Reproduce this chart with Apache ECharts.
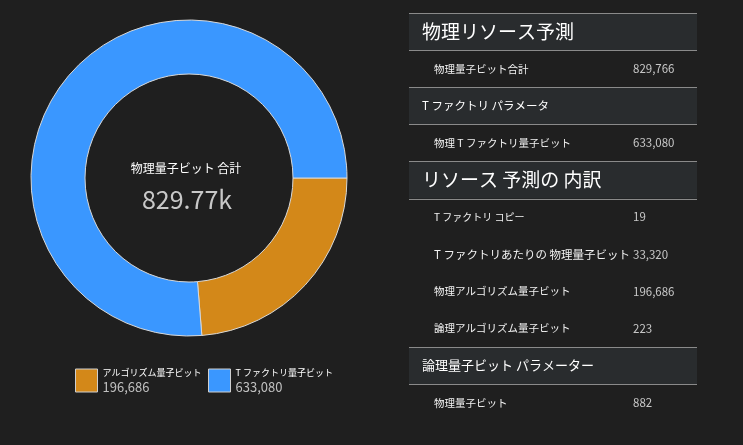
<!DOCTYPE html>
<html><head><meta charset="utf-8">
<script src="https://cdn.jsdelivr.net/npm/echarts@6/dist/echarts.min.js"></script>
<style>html,body{margin:0;padding:0;background:#1f1f1f}#c{width:743px;height:445px}</style>
</head><body><div id="c"></div>
<script>
// ---- data ----
const sliceNames = ['アルゴリズム量子ビット', 'T ファクトリ量子ビット'];
const sliceValues = [196686, 633080];
const sliceColors = ['#d38819', '#3a97ff'];
const centerLabel = '物理量子ビット 合計';
const centerValue = '829.77k';
const rowKinds = ['h', 'd', 'h', 'd', 'h', 'd', 'd', 'd', 'd', 'h', 'd'];
const rowLabels = ['物理リソース予測', '物理量子ビット合計', 'T ファクトリ パラメータ', '物理 T ファクトリ量子ビット',
  'リソース 予測の 内訳', 'T ファクトリ コピー', 'T ファクトリあたりの 物理量子ビット', '物理アルゴリズム量子ビット',
  '論理アルゴリズム量子ビット', '論理量子ビット パラメーター', '物理量子ビット'];
const rowValues = ['', '829,766', '', '633,080', '', '19', '33,320', '196,686', '223', '', '882'];
const legendValues = ['196,686', '633,080'];

// ---- styling ----
const FONT = '"Noto Sans CJK JP", "Noto Sans", sans-serif';
const rowFont = [19, 10.5, 11.5, 10.5, 19, 10, 11.5, 10.5, 10.5, 13, 10.5];
const tableX = 409, tableW = 288, top0 = 13, rowH = 37.1;

const graphics = [];
rowKinds.forEach((k, i) => {
  const y = top0 + i * rowH;
  if (k === 'h') {
    graphics.push({type: 'rect', silent: true, shape: {x: tableX, y: y, width: tableW, height: rowH},
      style: {fill: '#292c2e'}});
    graphics.push({type: 'line', silent: true, shape: {x1: tableX, y1: Math.round(y) + 0.5, x2: tableX + tableW, y2: Math.round(y) + 0.5},
      style: {stroke: '#8a8a8a', lineWidth: 1}});
    graphics.push({type: 'line', silent: true, shape: {x1: tableX, y1: Math.round(y + rowH) + 0.5, x2: tableX + tableW, y2: Math.round(y + rowH) + 0.5},
      style: {stroke: '#8a8a8a', lineWidth: 1}});
    graphics.push({type: 'text', silent: true, x: 422, y: y + rowH / 2,
      style: {text: rowLabels[i], fill: '#ffffff', font: rowFont[i] + 'px ' + FONT, verticalAlign: 'middle', textAlign: 'left'}});
  } else {
    graphics.push({type: 'text', silent: true, x: 434, y: y + rowH / 2,
      style: {text: rowLabels[i], fill: '#f2f2f2', font: rowFont[i] + 'px ' + FONT, verticalAlign: 'middle', textAlign: 'left'}});
    graphics.push({type: 'text', silent: true, x: 633, y: y + rowH / 2,
      style: {text: rowValues[i], fill: '#c8c8c8', font: '11.5px ' + FONT, verticalAlign: 'middle', textAlign: 'left'}});
  }
});
graphics.push({type: 'text', silent: true, x: 186, y: 168,
  style: {text: centerLabel, fill: '#ffffff', font: '12px ' + FONT, textAlign: 'center', verticalAlign: 'middle'}});
graphics.push({type: 'text', silent: true, x: 187, y: 199,
  style: {text: centerValue, fill: '#c8c8c8', font: '25px ' + FONT, textAlign: 'center', verticalAlign: 'middle'}});

function legendFor(idx, left) {
  return {
    show: true, data: [sliceNames[idx]], left: left, top: 368, orient: 'horizontal', padding: 0,
    icon: 'rect', itemWidth: 22, itemHeight: 23, itemGap: 0, selectedMode: false,
    itemStyle: {borderColor: '#cfcfcf', borderWidth: 1},
    formatter: () => '{n|' + sliceNames[idx] + '}\n{v|' + legendValues[idx] + '}',
    textStyle: {
      fontFamily: FONT,
      rich: {
        n: {fontSize: 9, color: '#ffffff', lineHeight: 13, fontFamily: FONT},
        v: {fontSize: 13, color: '#c0c0c0', lineHeight: 16, fontFamily: FONT}
      }
    }
  };
}

const chart = echarts.init(document.getElementById('c'), null, {renderer: 'canvas'});
chart.setOption({
  backgroundColor: '#1f1f1f',
  animation: false,
  legend: [legendFor(0, 75), legendFor(1, 208)],
  series: [{
    type: 'pie', center: [189, 178], radius: [104, 158], startAngle: 0, clockwise: true,
    avoidLabelOverlap: false, label: {show: false}, labelLine: {show: false},
    emphasis: {disabled: true},
    itemStyle: {borderColor: '#d8d8d8', borderWidth: 1},
    data: sliceNames.map((n, i) => ({name: n, value: sliceValues[i], itemStyle: {color: sliceColors[i]}}))
  }],
  graphic: graphics
});
</script></body></html>
